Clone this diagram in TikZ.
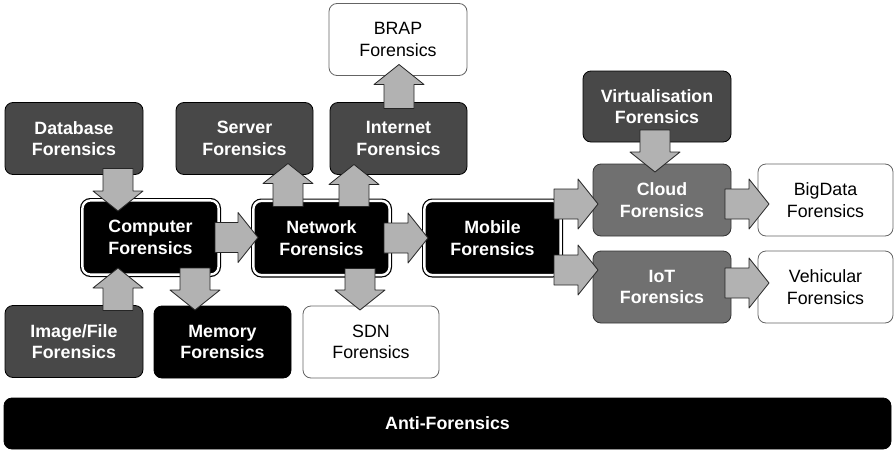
\documentclass[tikz,border=0pt]{standalone}
\usepackage{fontspec}
\setmainfont{Liberation Sans}
\usetikzlibrary{calc}

\definecolor{boxdark}{RGB}{72,72,72}
\definecolor{boxmid}{RGB}{112,112,112}
\definecolor{arrowfill}{RGB}{178,178,178}
\definecolor{edgegray}{RGB}{100,100,100}

% thick block arrow from #1 to #2: shaft 30pt, head 50pt wide and 20pt long
\newcommand\blockarrow[2]{%
  \draw[flowarrow] let \p1=#1, \p2=#2,
    \n1={atan2(\y2-\y1,\x2-\x1)}, \n2={veclen(\x2-\x1,\y2-\y1)} in
    [shift={(\p1)}, rotate=\n1]
    (0pt,-15pt) -- ({\n2*1pt-20pt},-15pt) -- ({\n2*1pt-20pt},-25pt)
    -- ({\n2*1pt},0pt) -- ({\n2*1pt-20pt},25pt) -- ({\n2*1pt-20pt},15pt)
    -- (0pt,15pt) -- cycle;
}

\tikzset{
  txt/.style={font=\fontsize{17.8}{21.7}\selectfont},
  btxt/.style={font=\fontsize{17.8}{21.7}\selectfont\bfseries},
  box/.style={rounded corners=8pt, minimum width=138pt, minimum height=72pt,
    align=center, inner sep=0pt, outer sep=0pt, line width=0.8pt},
  darkbox/.style={box, btxt, fill=boxdark, draw=black, text=white},
  midbox/.style={box, btxt, fill=boxmid, draw=black!80, text=white},
  blackbox/.style={box, btxt, fill=black, draw=black, text=white},
  whitebox/.style={box, txt, fill=white, draw=edgegray, text=black},
  dblbox/.style={box, btxt, fill=black, draw=black, text=white,
    line width=1.2pt, double=white, double distance=2.4pt, outer sep=2.4pt,
    minimum width=136.2pt, minimum height=74.2pt},
  flowarrow/.style={fill=arrowfill, draw=black!85, line width=0.8pt, line join=round}
}

\begin{document}
\begin{tikzpicture}[x=1pt, y=-1pt]
\useasboundingbox (0,0) rectangle (894,450);

% left group
\node[darkbox] (db)  at (74,138.5)  {Database\\Forensics};
\node[dblbox]  (comp) at (150.5,237.5) {Computer\\Forensics};
\node[darkbox] (img) at (74,341.5)  {Image/File\\Forensics};
\node[blackbox, minimum width=137pt] (mem) at (222.5,342) {Memory\\Forensics};

% network group
\node[darkbox, minimum width=137pt] (srv) at (244.5,138.5) {Server\\Forensics};
\node[darkbox, minimum width=137pt] (inet) at (398.5,138.5) {Internet\\Forensics};
\node[whitebox] (brap) at (398,39.5) {BRAP\\Forensics};
\node[dblbox] (net) at (321.5,238) {Network\\Forensics};
\node[whitebox, minimum width=136pt] (sdn) at (371,342) {SDN\\Forensics};

% mobile group
\node[dblbox] (mob) at (492.5,238) {Mobile\\Forensics};
\node[darkbox, minimum width=148pt, minimum height=71pt] (virt) at (657,106.5) {Virtualisation\\Forensics};
\node[midbox] (cloud) at (662,200) {Cloud\\Forensics};
\node[midbox] (iot) at (662,287) {IoT\\Forensics};
\node[whitebox, minimum width=135pt] (big) at (825.5,200) {BigData\\Forensics};
\node[whitebox, minimum width=135pt] (veh) at (825.5,287) {Vehicular\\Forensics};

% bottom bar
\node[blackbox, minimum width=887pt, minimum height=51pt] (anti) at (447.5,423.5) {Anti-Forensics};

% connectors
\blockarrow{($(db.south)+(44,-6)$)}{($(comp.north)+(-32.5,13)$)}
\blockarrow{($(img.north)+(44,5)$)}{($(comp.south)+(-32.5,-9)$)}
\blockarrow{($(comp.south)+(44.5,-9)$)}{($(mem.north)+(-27.5,4)$)}
\blockarrow{($(comp.east)+(-6,0)$)}{($(net.west)+(7,-0.5)$)}
\blockarrow{($(net.north)+(-33.5,8)$)}{($(srv.south)+(43.5,-11)$)}
\blockarrow{($(net.north)+(32.5,8)$)}{($(inet.south)+(-44.5,-10)$)}
\blockarrow{($(inet.north)+(0.5,6)$)}{($(brap.south)+(1,-11)$)}
\blockarrow{($(net.south)+(38.5,-9)$)}{($(sdn.north)+(-11,4)$)}
\blockarrow{($(net.east)+(-8,0)$)}{($(mob.west)+(6,0)$)}
\blockarrow{($(mob.east)+(-9,-34)$)}{($(cloud.west)+(5,4)$)}
\blockarrow{($(mob.east)+(-9,32)$)}{($(iot.west)+(5,-17)$)}
\blockarrow{($(virt.south)+(-2,-12)$)}{($(cloud.north)+(-7,8)$)}
\blockarrow{($(cloud.east)+(-6,4)$)}{($(big.west)+(11,4)$)}
\blockarrow{($(iot.east)+(-6,-4)$)}{($(veh.west)+(11,-4)$)}
\end{tikzpicture}
\end{document}
